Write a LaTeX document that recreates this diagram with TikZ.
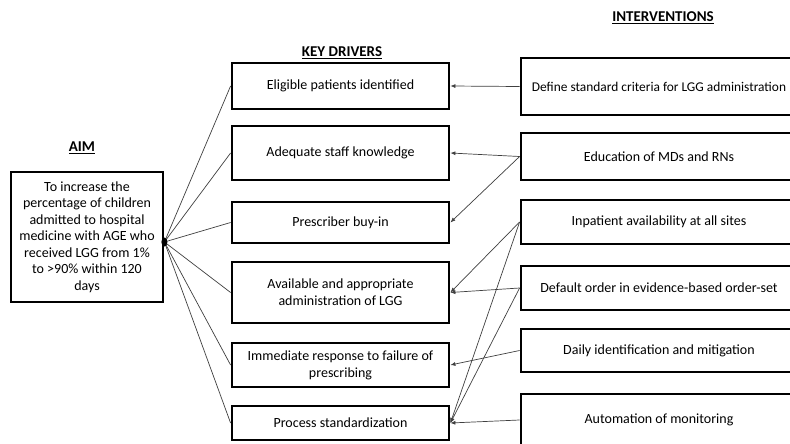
\documentclass[tikz,border=0pt]{standalone}
\usepackage{fontspec}
\setmainfont{Carlito}
\usetikzlibrary{arrows.meta,calc}
\begin{document}
\begin{tikzpicture}[x=1pt,y=-1pt,
  box/.style={draw=black,line width=2.8pt,fill=white,inner sep=1pt,align=center,font=\fontsize{14}{17}\selectfont},
  kd/.style={box,minimum width=217pt},
  iv/.style={box,minimum width=276pt},
  heading/.style={font=\bfseries\fontsize{15}{17}\selectfont},
  link/.style={draw=black!75,line width=0.7pt},
  arr/.style={link,-{Latex[length=5pt,width=4pt]}}]
\useasboundingbox (0,0) rectangle (790,444);
\fill[white] (0,0) rectangle (790,444);
% headings
\node[heading] (hAim) at (82,148) {\underline{AIM}};
\node[heading] (hKD) at (342,53) {\underline{KEY DRIVERS}};
\node[heading] (hIV) at (663,18) {\underline{INTERVENTIONS}};
% aim
\node[box,minimum width=152pt,minimum height=130pt,font=\fontsize{14}{16.5}\selectfont] (aim) at (87,237)
 {To increase the\\percentage of children\\admitted to hospital\\medicine with AGE who\\received LGG from 1\%\\to >90\% within 120\\days};
% key drivers
\node[kd,minimum height=46pt] (k1) at (340.5,86) {Eligible patients identified};
\node[kd,minimum height=54pt] (k2) at (340.5,153) {Adequate staff knowledge};
\node[kd,minimum height=41pt] (k3) at (340.5,222.5) {Prescriber buy-in};
\node[kd,minimum height=61pt] (k4) at (340.5,292.5) {Available and appropriate\\administration of LGG};
\node[kd,minimum height=44pt] (k5) at (340.5,365) {Immediate response to failure of\\prescribing};
\node[kd,minimum height=34pt] (k6) at (340.5,423) {Process standardization};
% interventions
\node[iv,minimum height=57pt,font=\fontsize{13.4}{16}\selectfont] (i1) at (659,86.5) {Define standard criteria for LGG administration};
\node[iv,minimum height=47pt] (i2) at (659,156.5) {Education of MDs and RNs};
\node[iv,minimum height=44pt] (i3) at (659,222) {Inpatient availability at all sites};
\node[iv,minimum height=44pt] (i4) at (659,288) {Default order in evidence-based order-set};
\node[iv,minimum height=43pt] (i5) at (659,350.5) {Daily identification and mitigation};
\node[iv,minimum height=52pt] (i6) at (659,420) {Automation of monitoring};
% hub
\coordinate (hub) at ($(aim.east)+(0,5)$);
\foreach \k in {k1,k2,k3,k4,k5,k6} \draw[link] (hub) -- (\k.west);
\fill[black] (hub) ellipse (3pt and 4.5pt);
% intervention arrows
\draw[arr] (i1.west) -- (k1.east);
\draw[arr] (i2.west) -- (k2.east);
\draw[arr] (i2.west) -- (k3.east);
\draw[arr] (i3.west) -- (k4.east);
\draw[arr] (i3.west) -- (k6.east);
\draw[arr] (i4.west) -- (k4.east);
\draw[arr] (i4.west) -- (k6.east);
\draw[arr] (i5.west) -- (k5.east);
\draw[arr] (i6.west) -- (k6.east);
\end{tikzpicture}
\end{document}
